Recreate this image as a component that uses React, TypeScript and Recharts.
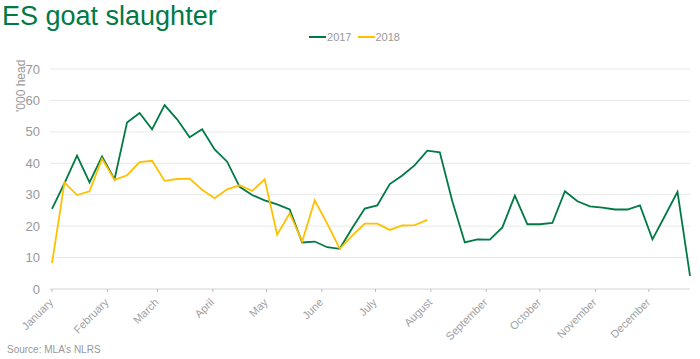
import { LineChart, Line, XAxis, YAxis, CartesianGrid, Legend } from "recharts";

// weekly slaughter, '000 head
const weeks2017 = [
  25.5, 33.7, 42.4, 33.9, 42.2, 34.9, 53.0, 56.0, 50.8, 58.5, 54.0, 48.3, 50.8,
  44.4, 40.5, 32.5, 29.9, 28.2, 26.9, 25.3, 14.8, 15.1, 13.3, 12.8, 19.4, 25.6,
  26.6, 33.4, 36.1, 39.4, 44.0, 43.5, 27.9, 14.8, 15.8, 15.7, 19.6, 29.7, 20.6,
  20.6, 21.0, 31.1, 27.9, 26.3, 25.9, 25.3, 25.3, 26.6, 15.8, 23.3, 30.9, 4.2,
];
const weeks2018 = [
  8.2, 33.9, 29.9, 31.1, 41.4, 34.7, 36.2, 40.4, 40.8, 34.4, 35.0, 35.1, 31.6,
  28.9, 31.7, 33.0, 31.2, 34.9, 17.3, 24.1, 15.1, 28.2, 20.8, 12.8, 17.0, 20.8,
  20.8, 18.8, 20.2, 20.3, 22.0,
];
const months = [
  "January", "February", "March", "April", "May", "June",
  "July", "August", "September", "October", "November", "December",
];
const monthStartDays = [0, 31, 59, 90, 120, 151, 181, 212, 243, 273, 304, 334];
const yTicks = [0, 10, 20, 30, 40, 50, 60, 70];

const GREEN = "#007A45";
const YELLOW = "#FFC000";
const GREY = "#999";

const data = weeks2017.map((v, i) => ({
  week: i,
  y2017: v,
  y2018: i < weeks2018.length ? weeks2018[i] : null,
}));
const monthTicks = monthStartDays.map((d) => d / 7);

const MonthTick = ({ x, y, payload }: any) => {
  const idx = monthTicks.indexOf(payload.value);
  return (
    <text
      x={x + 2}
      y={y + 9}
      textAnchor="end"
      fontSize={11}
      fill="#a0a0a0"
      transform={`rotate(-45, ${x + 2}, ${y + 9})`}
    >
      {months[idx]}
    </text>
  );
};

const LegendContent = () => (
  <div style={{ display: "flex", justifyContent: "center", fontSize: 11, color: GREY, fontFamily: "Liberation Sans, Arial, sans-serif" }}>
    {[
      { name: "2017", color: GREEN },
      { name: "2018", color: YELLOW },
    ].map((s) => (
      <div key={s.name} style={{ display: "flex", alignItems: "center", marginRight: 6 }}>
        <span style={{ display: "inline-block", width: 17, height: 2, background: s.color, marginRight: 1 }} />
        <span>{s.name}</span>
      </div>
    ))}
  </div>
);

export default function App() {
  return (
    <div style={{ position: "absolute", left: 0, top: 0, width: 700, height: 359, background: "#fff", fontFamily: "Liberation Sans, Arial, sans-serif" }}>
      <div style={{ position: "absolute", left: 2, top: 0, fontSize: 27, color: GREEN, lineHeight: "32px" }}>
        ES goat slaughter
      </div>
      <div style={{ position: "absolute", left: 14, top: 60, width: 20, height: 60 }}>
        <div style={{ position: "absolute", left: 0, top: 0, transform: "rotate(-90deg) translate(-52px, 0px)", transformOrigin: "0 0", whiteSpace: "nowrap", fontSize: 12, color: GREY }}>
          '000 head
        </div>
      </div>
      <div style={{ position: "absolute", left: 0, bottom: 4, fontSize: 10, color: "#999" }}>
        <span style={{ marginLeft: 7 }}>Source: MLA’s NLRS</span>
      </div>
      <LineChart width={700} height={359} data={data} margin={{ top: 57, right: 10, left: 0, bottom: 0 }}>
        <CartesianGrid vertical={false} stroke="#e8e8e8" />
        <XAxis
          dataKey="week"
          type="number"
          domain={[0, 51]}
          ticks={monthTicks}
          interval={0}
          height={70}
          tick={<MonthTick />}
          axisLine={{ stroke: "#e0e0e0" }}
          tickLine={{ stroke: "#bbb" }}
          tickSize={3}
          padding={{ left: 2, right: 0 }}
        />
        <YAxis
          domain={[0, 70]}
          ticks={yTicks}
          width={50}
          axisLine={false}
          tickLine={false}
          tick={{ fill: GREY, fontSize: 13 }}
          tickMargin={4}
        />
        <Legend verticalAlign="top" wrapperStyle={{ top: 31, left: 0, width: 715 }} content={<LegendContent />} />
        <Line dataKey="y2017" name="2017" stroke={GREEN} strokeWidth={1.8} dot={false} isAnimationActive={false} />
        <Line dataKey="y2018" name="2018" stroke={YELLOW} strokeWidth={1.8} dot={false} isAnimationActive={false} connectNulls={false} />
      </LineChart>
    </div>
  );
}
